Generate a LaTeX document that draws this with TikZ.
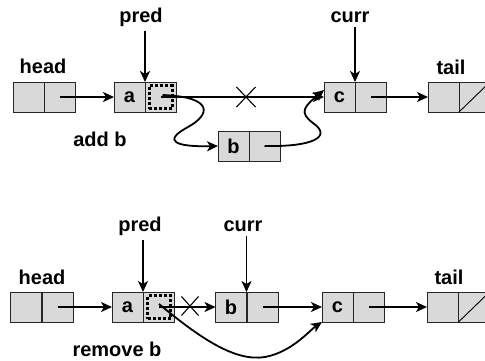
\documentclass[tikz,border=0pt]{standalone}
\usepackage{fontspec}
\setmainfont{Liberation Sans}
\usetikzlibrary{arrows.meta,shapes.misc}
\definecolor{cellgray}{HTML}{D9D9D9}
\tikzset{
  cell/.style={draw=black!85, fill=cellgray, line width=0.9pt, minimum width=31pt, minimum height=30pt, inner sep=0pt, outer sep=0pt},
  dotbox/.style={draw=black, line width=3pt, dash pattern=on 3pt off 2pt, minimum width=23pt, minimum height=23pt, inner sep=0pt},
  lbl/.style={font=\bfseries\fontsize{20}{23}\selectfont, inner sep=0pt},
  arr/.style={line width=1.8pt, -{Stealth[length=11pt,width=10pt,inset=3pt]}},
  xmark/.style={cross out, draw=black, line width=1.1pt, inner sep=0pt},
}
\begin{document}
\begin{tikzpicture}[x=1pt,y=-1pt]
\useasboundingbox (0,0) rectangle (485,360);
% ---------- top ----------
\node[cell] (tHl) at (28.5,97) {};
\node[cell] (tHr) at (59.5,97) {};
\node[cell,lbl] (tAl) at (129.5,97) {a};
\node[cell] (tAr) at (160.5,97) {};
\node[dotbox] (tD) at (160.5,97) {};
\node[cell,lbl] (tCl) at (339.5,97) {c};
\node[cell] (tCr) at (370.5,97) {};
\node[cell] (tTl) at (443.5,97) {};
\node[cell] (tTr) at (474.5,97) {};
\draw[line width=0.9pt] (tTr.south west) -- (tTr.north east);
\node[cell,lbl] (tBl) at (233.5,146) {b};
\node[cell] (tBr) at (264.5,146) {};

\node[lbl] (tpred) at (141,17) {pred};
\node[lbl] (tcurr) at (350,17) {curr};
\node[lbl] (thead) at (43,66) {head};
\node[lbl] (ttail) at (451,67) {tail};
\node[lbl] (tadd) at (100,139) {add b};

\draw[arr] (tAl.north east |- tpred.south) ++(0,4) -- (tAl.north east);
\draw[arr] (tCl.north east |- tcurr.south) ++(0,4) -- (tCl.north east);
\draw[arr] (tHr.center) -- (tAl.west);
\draw[arr] (tD.center) -- (tCl.west);
\node[xmark, minimum width=18pt, minimum height=19pt] (tX) at (246,97) {};
\draw[arr] (tCr.center) -- (tTl.west);
\draw[arr] ([xshift=2pt,yshift=2pt]tD.center) .. controls (215,97) and (210,115) .. (188,127)
   .. controls (162,141) and (175,147) .. (tBl.west);
\draw[arr] (tBr.center) .. controls (312,147) and (333,137) .. (313,123)
   .. controls (298,112) and (305,106) .. ([yshift=7pt]tCl.west);
% ---------- bottom ----------
\node[cell] (bHl) at (26,307) {};
\node[cell] (bHr) at (57.5,307) {};
\node[cell,lbl] (bAl) at (127.5,307) {a};
\node[cell] (bAr) at (159,307) {};
\node[dotbox] (bD) at (159,307) {};
\node[cell,lbl] (bBl) at (231,307) {b};
\node[cell] (bBr) at (262.5,307) {};
\node[cell,lbl] (bCl) at (337.5,307) {c};
\node[cell] (bCr) at (369,307) {};
\node[cell] (bTl) at (442.5,307) {};
\node[cell] (bTr) at (474,307) {};
\draw[line width=0.9pt] (bTr.south west) -- (bTr.north east);

\node[lbl] (bpred) at (140,226) {pred};
\node[lbl] (bcurr) at (243,226) {curr};
\node[lbl] (bhead) at (42,277) {head};
\node[lbl] (btail) at (449,277) {tail};
\node[lbl] (brem) at (117,349) {remove b};

\draw[arr] (bAl.north east |- bpred.south) ++(0,4) -- (bAl.north east);
\draw[arr] (bBl.north east |- bcurr.south) ++(0,4) -- (bBl.north east);
\draw[arr] (bHr.center) -- (bAl.west);
\draw[arr] (bD.center) -- (bBl.west);
\node[xmark, minimum width=16pt, minimum height=18pt] (bX) at (190,306) {};
\draw[arr] (bBr.center) -- (bCl.west);
\draw[arr] (bCr.center) -- (bTl.west);
\draw[arr] ([yshift=3pt]bD.center) .. controls (200,338) and (235,362) .. (265,357)
   .. controls (292,352) and (310,330) .. (bCl.south west);
\end{tikzpicture}
\end{document}
